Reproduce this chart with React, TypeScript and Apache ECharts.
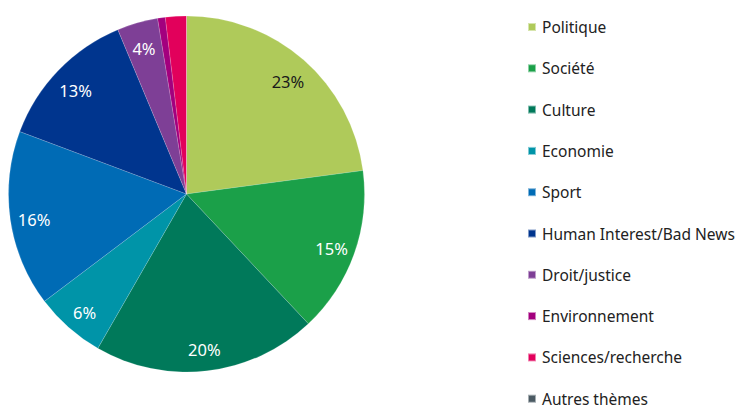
import React, { useEffect, useRef } from "react";
import * as echarts from "echarts";

const categories = [
  "Politique",
  "Société",
  "Culture",
  "Economie",
  "Sport",
  "Human Interest/Bad News",
  "Droit/justice",
  "Environnement",
  "Sciences/recherche",
  "Autres thèmes",
];
const values = [22.9, 15.1, 20.3, 6.4, 16.0, 13.0, 3.7, 0.7, 1.9, 0];
const labels = ["23%", "15%", "20%", "6%", "16%", "13%", "4%", "", "", ""];
const colors = [
  "#AFCA5A",
  "#1BA049",
  "#00795A",
  "#0094A8",
  "#006BB5",
  "#00358E",
  "#7E3F96",
  "#A3007E",
  "#E2005B",
  "#4B5A63",
];
const labelColors = ["#1a1a1a", "#fff", "#fff", "#fff", "#fff", "#fff", "#fff", "#fff", "#fff", "#fff"];

const FONT = "'Noto Sans', sans-serif";

export default function App() {
  const ref = useRef<HTMLDivElement>(null);
  useEffect(() => {
    if (!ref.current) return;
    const chart = echarts.init(ref.current, null, { renderer: "svg" });
    const pieData = categories.map((name, i) => ({
      name,
      value: values[i],
      itemStyle: { color: colors[i] },
    }));
    const labelData = categories.map((name, i) => ({
      name,
      value: values[i],
      itemStyle: { color: "rgba(0,0,0,0)" },
      label: {
        show: labels[i] !== "",
        formatter: labels[i],
        color: labelColors[i],
      },
    }));
    chart.setOption({
      animation: false,
      color: colors,
      legend: {
        orient: "vertical",
        left: 527,
        top: 19,
        height: 400,
        padding: 0,
        itemWidth: 8,
        itemHeight: 8,
        itemGap: 25.3,
        icon: "rect",
        data: categories.map((name, i) => ({ name, itemStyle: { color: colors[i] } })),
        textStyle: {
          fontFamily: FONT,
          fontSize: 15.5,
          lineHeight: 16,
          color: "#222",
          padding: [0, 0, 0, 1],
        },
        selectedMode: false,
      },
      series: [
        {
          type: "pie",
          center: [186.5, 194],
          radius: [0, 178],
          startAngle: 90,
          clockwise: true,
          label: { show: false },
          labelLine: { show: false },
          itemStyle: { borderWidth: 0.3, borderColor: "rgba(255,255,255,0.5)" },
          emphasis: { disabled: true },
          data: pieData,
        },
        {
          type: "pie",
          center: [186.5, 194],
          radius: [124, 178],
          startAngle: 90,
          clockwise: true,
          silent: true,
          legendHoverLink: false,
          label: {
            show: true,
            position: "inside",
            fontFamily: FONT,
            fontSize: 16.5,
            offset: [0, 3],
          },
          labelLine: { show: false },
          emphasis: { disabled: true },
          data: labelData,
        },
      ],
    });
    return () => chart.dispose();
  }, []);
  return (
    <div
      ref={ref}
      style={{ position: "fixed", left: 0, top: 0, width: 737, height: 408, background: "#fff" }}
    />
  );
}
